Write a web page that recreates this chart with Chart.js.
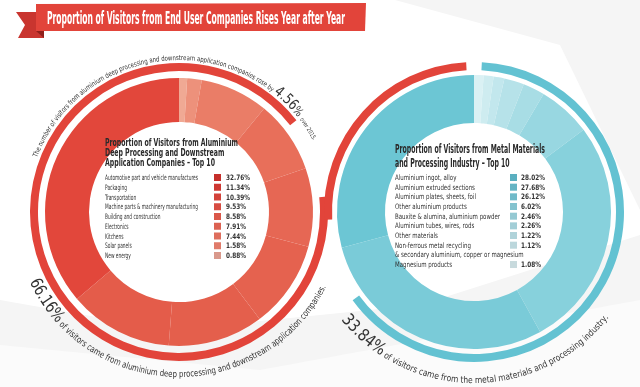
<!DOCTYPE html>
<html>
<head>
<meta charset="utf-8">
<script src="https://cdn.jsdelivr.net/npm/chart.js@4.4.0/dist/chart.umd.min.js"></script>
<style>
html, body { margin: 0; padding: 0; background: #fff; overflow: hidden; }
#wrap { position: relative; width: 640px; height: 387px; }
#wrap canvas { position: absolute; left: 0; top: 0; }
</style>
</head>
<body>
<div id="wrap">
  <canvas id="aluChart" width="640" height="387"></canvas>
  <canvas id="metalChart" width="640" height="387"></canvas>
</div>
<script>
const aluLabels = ['Automotive part and vehicle manufactures', 'Packaging', 'Transportation',
    'Machine parts & machinery manufacturing', 'Building and construction', 'Electronics',
    'Kitchens', 'Solar panels', 'New energy'];
const aluValues = [32.76, 11.34, 10.39, 9.53, 8.58, 7.91, 7.44, 1.58, 0.88];

const metalLabels = ['Aluminium ingot, alloy', 'Aluminium extruded sections', 'Aluminium plates, sheets, foil',
    'Other aluminium products', 'Bauxite & alumina, aluminium powder', 'Aluminium tubes, wires, rods',
    'Other materials', ['Non-ferrous metal recycling', '& secondary aluminium, copper or magnesium'],
    'Magnesium products'];
const metalValues = [28.02, 27.68, 26.12, 6.02, 2.46, 2.26, 1.22, 1.12, 1.08];

// outer thin rings, in degrees (arc, gap, ...)
const aluRingDeg = [328, 32];
const metalRingDeg = [231, 33, 90, 6];

const aluShare = '66.16%';
const metalShare = '33.84%';
const growth = '4.56%';

const title = 'Proportion of Visitors from End User Companies Rises Year after Year';
const aluTitle = ['Proportion of Visitors from Aluminium', 'Deep Processing and Downstream', 'Application Companies \u2013 Top 10'];
const metalTitle = ['Proportion of Visitors from Metal Materials', 'and Processing Industry \u2013 Top 10'];

const RED = '#e2443a';
const BLUE = '#63c2d2';
const NONE = 'rgba(0,0,0,0)';
const F = '"DejaVu Sans Condensed", "Liberation Sans Narrow", Roboto, sans-serif';

const aluRingColors = ['#e2473b', '#e45c4a', '#e45f4c', '#e5624f', '#e66754', '#e86f5a', '#ea7d67', '#ed917b', '#f0a994'];
const aluSwatch = ['#c52f2b', '#ce3832', '#d3423a', '#d74c42', '#da5749', '#dc6252', '#de6e5d', '#e07b6a', '#d9998c'];
const metalRingColors = ['#6cc6d4', '#7acbd8', '#87d1dc', '#98d7e1', '#a8dde5', '#b6e2e9', '#c2e7ed', '#ceecf0', '#daf1f4'];
const metalSwatch = ['#5aafc0', '#64b4c4', '#70bac9', '#84c3cf', '#95c9d3', '#a3ced7', '#b0d3da', '#bcd7dc', '#c8dadd'];

function condText(ctx, text, x, y, font, sx, color) {
    ctx.save();
    ctx.font = font;
    ctx.fillStyle = color;
    ctx.textAlign = 'left';
    ctx.textBaseline = 'alphabetic';
    ctx.translate(x, y);
    ctx.scale(sx, 1);
    ctx.fillText(text, 0, 0);
    ctx.restore();
}

function fitScale(ctx, text, font, width) {
    ctx.font = font;
    return width / ctx.measureText(text).width;
}

// text along a circle; angles in degrees clockwise from 12 o'clock
function arcText(ctx, cx, cy, r, a0, a1, parts, color) {
    ctx.save();
    ctx.fillStyle = color;
    ctx.textAlign = 'center';
    ctx.textBaseline = 'alphabetic';
    let total = 0;
    parts.forEach(p => {
        ctx.font = p[1];
        for (const ch of p[0]) total += ctx.measureText(ch).width;
    });
    const sx = Math.abs(a1 - a0) * Math.PI / 180 * r / total;
    const dir = a1 > a0 ? 1 : -1;
    let a = a0 * Math.PI / 180;
    parts.forEach(p => {
        ctx.font = p[1];
        for (const ch of p[0]) {
            const w = ctx.measureText(ch).width * sx;
            const mid = a + dir * (w / 2) / r;
            ctx.save();
            ctx.translate(cx + r * Math.sin(mid), cy - r * Math.cos(mid));
            ctx.rotate(dir > 0 ? mid : mid + Math.PI);
            ctx.scale(sx, 1);
            ctx.fillText(ch, 0, 0);
            ctx.restore();
            a += dir * w / r;
        }
    });
    ctx.restore();
}

function drawLegend(ctx, x, titleLines, titleY, titleGap, titleFont, titleWidth,
                    rows, rowY, rowGap, refLabel, labelWidth, swX, valX, colors) {
    const ts = fitScale(ctx, titleLines[0], titleFont, titleWidth);
    titleLines.forEach((t, i) => condText(ctx, t, x, titleY + i * titleGap, titleFont, ts, '#2b2b2b'));
    const lf = '7.5px ' + F;
    const ls = fitScale(ctx, refLabel, lf, labelWidth);
    rows.forEach((r, i) => {
        const y = rowY + i * rowGap;
        condText(ctx, r.label, x, y, lf, ls, '#333');
        if (r.value !== null) {
            ctx.fillStyle = colors[r.idx];
            ctx.fillRect(swX, y - 6, 7, 7);
            condText(ctx, r.value.toFixed(2) + '%', valX, y, 'bold 7.5px ' + F, 0.85, '#333');
        }
    });
}

const bgPlugin = {
    id: 'bg',
    beforeDraw(chart) {
        const ctx = chart.ctx;
        ctx.save();
        ctx.fillStyle = '#fff';
        ctx.fillRect(0, 0, 640, 387);
        ctx.fillStyle = '#f5f5f5';
        ctx.beginPath();
        ctx.moveTo(0, 300); ctx.lineTo(170, 330); ctx.lineTo(420, 305); ctx.lineTo(640, 235);
        ctx.lineTo(640, 387); ctx.lineTo(0, 387); ctx.closePath(); ctx.fill();
        ctx.fillStyle = '#fbfbfb';
        ctx.beginPath();
        ctx.moveTo(0, 345); ctx.lineTo(260, 370); ctx.lineTo(640, 300);
        ctx.lineTo(640, 387); ctx.lineTo(0, 387); ctx.closePath(); ctx.fill();
        ctx.fillStyle = '#f5f5f5';
        ctx.beginPath();
        ctx.moveTo(395, 0); ctx.lineTo(640, 0); ctx.lineTo(640, 210); ctx.lineTo(560, 45); ctx.closePath(); ctx.fill();
        ctx.restore();
    }
};

const aluTextPlugin = {
    id: 'aluText',
    afterDraw(chart) {
        const ctx = chart.ctx;
        const cx = 179, cy = 212;
        arcText(ctx, cx, cy, 152, 291, 422, [
            ['The number of visitors from aluminium deep processing and downstream application companies rose by ', '7px ' + F],
            [growth.replace('%', ''), '15px ' + F],
            ['% ', '12px ' + F],
            ['over 2015.', '6px ' + F]
        ], '#333');
        arcText(ctx, cx, cy, 165, 245, 117, [
            [aluShare, '17px ' + F],
            [' of visitors came from aluminium deep processing and downstream application companies.', '9px ' + F]
        ], '#333');
        const rows = aluLabels.map((l, i) => ({ label: l, value: aluValues[i], idx: i }));
        drawLegend(ctx, 105, aluTitle, 146, 10, 'bold 11px ' + F, 133,
            rows, 180, 9.75, aluLabels[0], 93, 214, 226, aluSwatch);
    }
};

const metalTextPlugin = {
    id: 'metalText',
    afterDraw(chart) {
        const ctx = chart.ctx;
        const cx = 474, cy = 212;
        arcText(ctx, cx, cy, 171, 231, 128, [
            [metalShare, '17px ' + F],
            [' of visitors came from the metal materials and processing industry.', '9px ' + F]
        ], '#333');
        const rows = [];
        metalLabels.forEach((l, i) => {
            if (Array.isArray(l)) {
                rows.push({ label: l[0], value: metalValues[i], idx: i });
                rows.push({ label: l[1], value: null, idx: i });
            } else {
                rows.push({ label: l, value: metalValues[i], idx: i });
            }
        });
        drawLegend(ctx, 395, metalTitle, 153, 14, 'bold 12px ' + F, 150,
            rows, 180, 9.67, metalLabels[4], 105, 510, 521, metalSwatch);

        // title ribbon
        ctx.save();
        ctx.fillStyle = '#c9352f';
        ctx.beginPath();
        ctx.moveTo(16, 12); ctx.lineTo(44, 12); ctx.lineTo(44, 38); ctx.lineTo(18, 38); ctx.lineTo(25, 25);
        ctx.closePath(); ctx.fill();
        ctx.fillStyle = '#8f1f1b';
        ctx.beginPath();
        ctx.moveTo(36, 31); ctx.lineTo(44, 31); ctx.lineTo(44, 38); ctx.closePath(); ctx.fill();
        ctx.fillStyle = RED;
        ctx.beginPath();
        ctx.moveTo(36, 4); ctx.lineTo(366, 3); ctx.lineTo(365, 31); ctx.lineTo(36, 31);
        ctx.closePath(); ctx.fill();
        ctx.restore();
        const tf = 'bold 17px ' + F;
        condText(ctx, title, 47, 24, tf, fitScale(ctx, title, tf, 298), '#fff');
    }
};

const common = {
    responsive: false,
    animation: false,
    events: [],
    elements: { arc: { borderWidth: 0 } },
    plugins: { legend: { display: false }, tooltip: { enabled: false } }
};

new Chart(document.getElementById('aluChart'), {
    type: 'doughnut',
    data: {
        labels: aluLabels.slice().reverse(),
        datasets: [
            { data: aluRingDeg, backgroundColor: [RED, NONE], rotation: 84, weight: 8 },
            { data: [1], backgroundColor: [NONE], weight: 7 },
            { data: aluValues.slice().reverse(), backgroundColor: aluRingColors.slice().reverse(), weight: 44 }
        ]
    },
    options: Object.assign({}, common, {
        layout: { padding: { left: 19, right: 301, top: 52, bottom: 15 } },
        radius: 149,
        cutout: (90 / 149 * 100) + '%'
    }),
    plugins: [bgPlugin, aluTextPlugin]
});

new Chart(document.getElementById('metalChart'), {
    type: 'doughnut',
    data: {
        labels: metalLabels.map(l => Array.isArray(l) ? l.join(' ') : l).reverse(),
        datasets: [
            { data: metalRingDeg, backgroundColor: [BLUE, NONE, RED, NONE], rotation: 3, weight: 8 },
            { data: [1], backgroundColor: [NONE], weight: 5 },
            { data: metalValues.slice().reverse(), backgroundColor: metalRingColors.slice().reverse(), weight: 48 }
        ]
    },
    options: Object.assign({}, common, {
        layout: { padding: { left: 314, right: 6, top: 52, bottom: 15 } },
        radius: 150,
        cutout: (89 / 150 * 100) + '%'
    }),
    plugins: [metalTextPlugin]
});
</script>
</body>
</html>
